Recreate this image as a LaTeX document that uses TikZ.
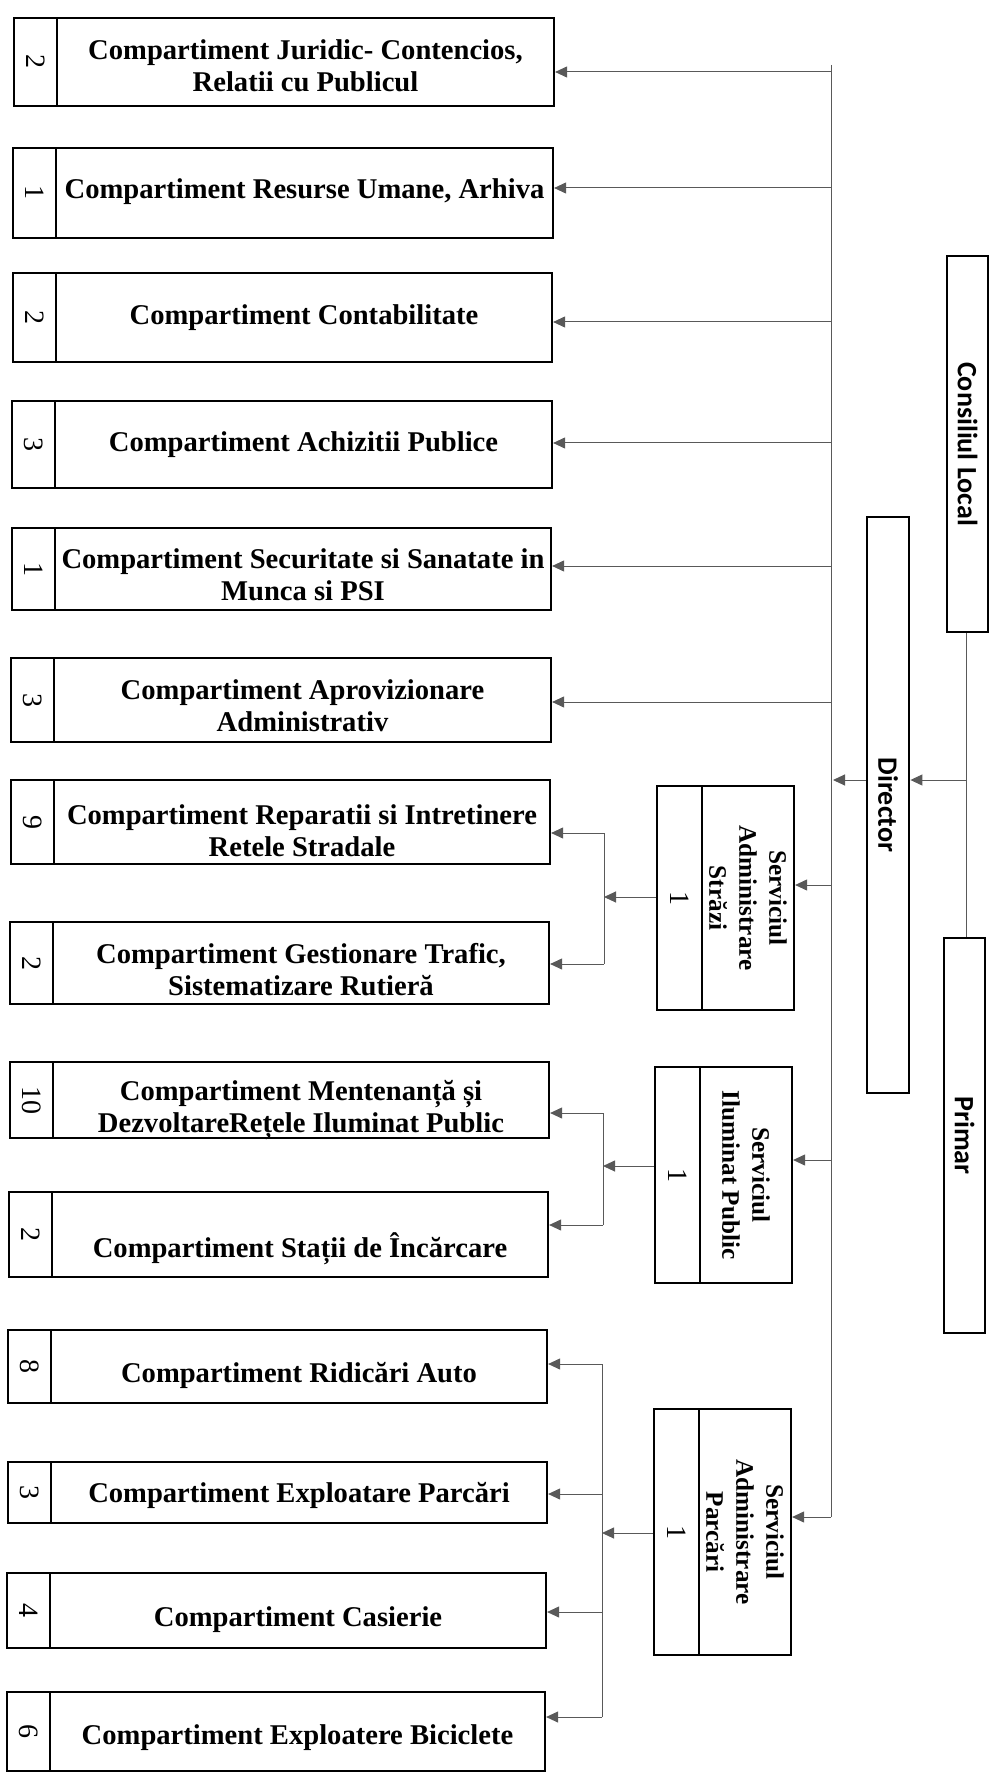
\documentclass[tikz,border=0pt]{standalone}
\usepackage{fontspec}
\setmainfont{Liberation Serif}
\newfontfamily\carl{Carlito}
\usetikzlibrary{arrows.meta,fit}

\tikzset{
 cbox/.style={draw=black, line width=1.1pt, inner sep=0pt},
 bigbox/.style={draw=black, line width=1.4pt, inner sep=0pt},
 divline/.style={draw=black, line width=1.1pt},
 ctext/.style={font=\fontsize{14.3}{16}\selectfont\bfseries, align=center, inner sep=0pt},
 numtext/.style={font=\fontsize{14}{16}\selectfont, rotate=-90, inner sep=0pt},
 stext/.style={font=\fontsize{12.6}{15}\selectfont\bfseries, align=center, rotate=-90, inner sep=0pt},
 btext/.style={font=\carl\fontsize{14}{16}\selectfont\bfseries, rotate=-90, inner sep=0pt},
 conn/.style={draw=black!65, line width=0.5pt},
 arr/.style={conn, -{Triangle[length=6pt,width=5.5pt,fill=black!65]}},
}

% name, L, T, R, B, number, text y, text
\newcommand\cbx[8]{%
 \node[cbox, fit={(#2,#3) (#4,#5)}] (#1) {};
 \draw[divline] (#2+43,#3) -- (#2+43,#5);
 \node[numtext] (#1n) at ({#2+21.5},{(#3+#5)/2}) {#6};
 \node[ctext] (#1t) at ({(#2+43+#4)/2},#7) {#8};
}
% name, L, T, R, B, divider x, text
\newcommand\sbx[7]{%
 \node[cbox, fit={(#2,#3) (#4,#5)}] (#1) {};
 \draw[divline] (#6,#3) -- (#6,#5);
 \node[numtext] (#1n) at ({(#2+#6)/2},{(#3+#5)/2}) {1};
 \node[stext] (#1t) at ({(#6+#4)/2},{(#3+#5)/2}) {#7};
}

\begin{document}
\begin{tikzpicture}[x=0.5pt,y=-0.5pt]
\useasboundingbox (0,0) rectangle (1000,1775);

% left compartments
\cbx{b1}{14}{18}{554}{106}{2}{66}{Compartiment Juridic- Contencios,\\Relatii cu Publicul}
\cbx{b2}{13}{148}{553}{238}{1}{192}{Compartiment Resurse Umane, Arhiva}
\cbx{b3}{13}{273}{552}{362}{2}{318}{Compartiment Contabilitate}
\cbx{b4}{12}{401}{552}{488}{3}{445}{Compartiment Achizitii Publice}
\cbx{b5}{12}{528}{551}{610}{1}{575}{Compartiment Securitate si Sanatate in\\Munca si PSI}
\cbx{b6}{11}{658}{551}{742}{3}{706}{Compartiment Aprovizionare\\Administrativ}
\cbx{b7}{11}{780}{550}{864}{9}{831}{Compartiment Reparatii si Intretinere\\Retele Stradale}
\cbx{b8}{10}{922}{549}{1004}{2}{970}{Compartiment Gestionare Trafic,\\Sistematizare Rutieră}
\cbx{b9}{10}{1062}{549}{1138}{10}{1110}{Compartiment Mentenanță și\\DezvoltareRețele Iluminat Public}
\cbx{b10}{9}{1192}{548}{1277}{2}{1249}{Compartiment Stații de Încărcare}
\cbx{b11}{8}{1330}{547}{1403}{8}{1375}{Compartiment Ridicări Auto}
\cbx{b12}{8}{1462}{547}{1523}{3}{1495}{Compartiment Exploatare Parcări}
\cbx{b13}{7}{1573}{546}{1648}{4}{1620}{Compartiment Casierie}
\cbx{b14}{7}{1692}{545}{1771}{6}{1738}{Compartiment Exploatere Biciclete}

% services
\sbx{s1}{657}{786}{794}{1010}{702}{Serviciul\\Administrare\\Străzi}
\sbx{s2}{655}{1067}{792}{1283}{700}{Serviciul\\Iluminat Public}
\sbx{s3}{654}{1409}{791}{1655}{699}{Serviciul\\Administrare\\Parcări}

% big boxes
\node[bigbox, fit={(947,256) (988,632)}] (cons) {};
\node[btext] (const) at (cons.center) {Consiliul Local};
\node[bigbox, fit={(867,517) (909,1093)}] (dir) {};
\node[btext] (dirt) at (dir.center) {Director};
\node[bigbox, fit={(944,938) (985,1333)}] (prim) {};
\node[btext] (primt) at (prim.center) {Primar};

% Consiliul / Primar -> Director
\coordinate (c1) at (966,780);
\draw[conn] (c1 |- cons.south) -- (c1 |- prim.north);
\draw[arr] (c1) -- (c1 -| dir.east);

% trunk
\coordinate (trTop) at (831,65);
\coordinate (trBot) at (831,1517);
\draw[conn] (trTop) -- (trBot);
\coordinate (d1) at (833,780);
\draw[arr] (d1 -| dir.west) -- (d1);

\foreach \b/\y in {b1/72, b2/188, b3/322, b4/443, b5/566, b6/702, s1/885, s2/1160, s3/1517}{
  \coordinate (a\b) at (831,\y);
  \draw[arr] (a\b) -- (a\b -| \b.east);
}

% Strazi branch
\coordinate (v1) at (604,897);
\coordinate (v1a) at (604,833);
\coordinate (v1b) at (604,964);
\draw[arr] (v1 -| s1.west) -- (v1);
\draw[conn] (v1a) -- (v1b);
\draw[arr] (v1a) -- (v1a -| b7.east);
\draw[arr] (v1b) -- (v1b -| b8.east);

% Iluminat branch
\coordinate (v2) at (603,1166);
\coordinate (v2a) at (603,1113);
\coordinate (v2b) at (603,1225);
\draw[arr] (v2 -| s2.west) -- (v2);
\draw[conn] (v2a) -- (v2b);
\draw[arr] (v2a) -- (v2a -| b9.east);
\draw[arr] (v2b) -- (v2b -| b10.east);

% Parcari branch
\coordinate (v3) at (602,1533);
\coordinate (v3a) at (602,1364);
\coordinate (v3b) at (602,1494);
\coordinate (v3c) at (602,1612);
\coordinate (v3d) at (602,1717);
\draw[arr] (v3 -| s3.west) -- (v3);
\draw[conn] (v3a) -- (v3d);
\draw[arr] (v3a) -- (v3a -| b11.east);
\draw[arr] (v3b) -- (v3b -| b12.east);
\draw[arr] (v3c) -- (v3c -| b13.east);
\draw[arr] (v3d) -- (v3d -| b14.east);
\end{tikzpicture}
\end{document}
